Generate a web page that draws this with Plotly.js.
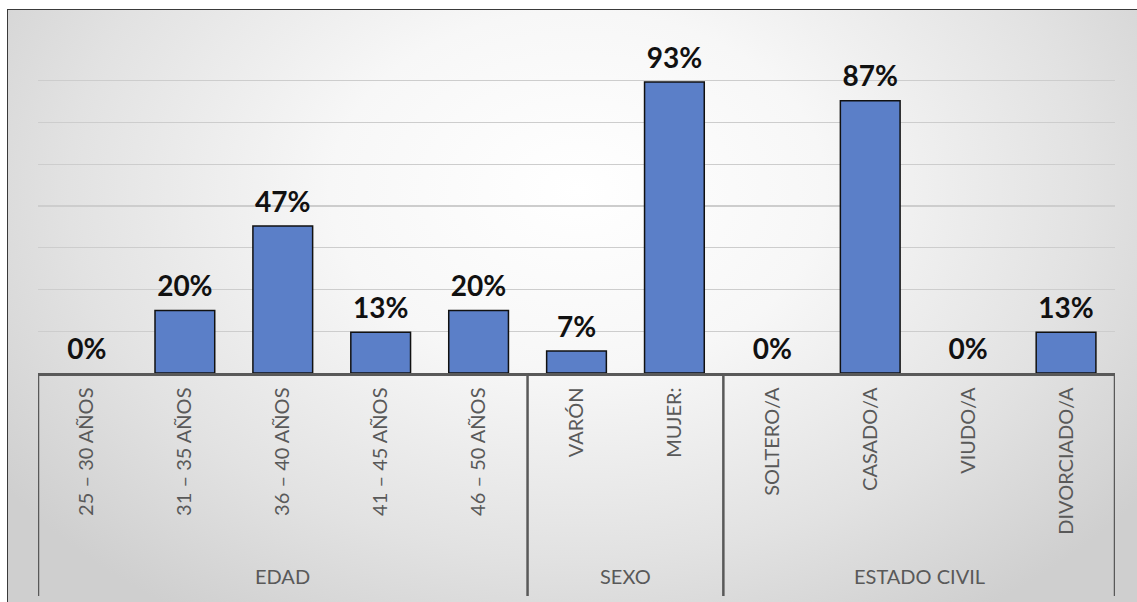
<!DOCTYPE html>
<html>
<head>
<meta charset="utf-8">
<script src="https://cdn.plot.ly/plotly-3.0.1.min.js"></script>
<style>
  html, body { margin: 0; padding: 0; width: 1137px; height: 602px; overflow: hidden; background: #ffffff; }
  #frame { position: absolute; left: 7px; top: 9px; width: 1140px; height: 600px;
           border: 1.5px solid #3a3a3a;
           background: radial-gradient(ellipse 62% 85% at 50% 30%, #ffffff 0%, #f7f7f7 35%, #e2e2e2 72%, #cfcfcf 100%); }
  #chart { position: absolute; left: 0; top: 0; width: 1137px; height: 602px; }
</style>
</head>
<body>
<div id="frame"></div>
<div id="chart"></div>
<script>
const groups = ['EDAD','EDAD','EDAD','EDAD','EDAD','SEXO','SEXO','ESTADO CIVIL','ESTADO CIVIL','ESTADO CIVIL','ESTADO CIVIL'];
const categories = ['25 – 30 AÑOS','31 – 35 AÑOS','36 – 40 AÑOS','41 – 45 AÑOS','46 – 50 AÑOS','VARÓN','MUJER:','SOLTERO/A','CASADO/A','VIUDO/A','DIVORCIADO/A'];
const percentages = [0, 20, 47, 13, 20, 7, 93, 0, 87, 0, 13];
const percentLabels = percentages.map(v => v + '%');

// group boundaries & centers (category index units), derived from the groups array
const boundaries = [-0.5];
const groupNames = [];
const groupCenters = [];
let start = 0;
for (let i = 1; i <= groups.length; i++) {
  if (i === groups.length || groups[i] !== groups[i - 1]) {
    boundaries.push(i - 0.5);
    groupNames.push(groups[i - 1]);
    groupCenters.push((start + i - 1) / 2);
    start = i;
  }
}

const AXIS_COLOR = '#595959';
const plotTop = 39, plotBottom = 373;
const plotH = plotBottom - plotTop;
const groupLabelY = (plotBottom - 576) / plotH;
const dividerBottomY = (plotBottom - 596) / plotH;

const traces = [
  {
    type: 'bar',
    x: categories,
    y: percentages,
    marker: {
      color: '#5b7fc8',
      line: { color: '#111111', width: percentages.map(v => v > 0 ? 1.5 : 0) }
    },
    width: 0.61,
    hoverinfo: 'skip'
  },
  {
    type: 'scatter',
    mode: 'markers+text',
    x: categories,
    y: percentages,
    text: percentLabels,
    textposition: 'top center',
    marker: { size: 10, opacity: 0 },
    textfont: { family: 'Lato, sans-serif', size: 28, color: '#111111', weight: 'bold' },
    cliponaxis: false,
    hoverinfo: 'skip'
  }
];

const shapes = boundaries.map(b => ({
  type: 'line', xref: 'x', yref: 'paper',
  x0: b, x1: b, y0: 0, y1: dividerBottomY,
  line: { color: AXIS_COLOR, width: 2.5 }
}));

const annotations = groupNames.map((g, k) => ({
  xref: 'x', yref: 'paper',
  x: groupCenters[k], y: groupLabelY,
  text: g, showarrow: false,
  xanchor: 'center', yanchor: 'middle',
  font: { family: 'Lato, sans-serif', size: 20, color: AXIS_COLOR }
}));

const layout = {
  width: 1137,
  height: 602,
  margin: { l: 38, r: 22, t: plotTop, b: 602 - plotBottom },
  paper_bgcolor: 'rgba(0,0,0,0)',
  plot_bgcolor: 'rgba(0,0,0,0)',
  showlegend: false,
  font: { family: 'Lato, sans-serif', color: AXIS_COLOR },
  shapes: shapes,
  annotations: annotations,
  xaxis: {
    type: 'category',
    range: [-0.5, categories.length - 0.5],
    tickangle: -90,
    tickfont: { family: 'Lato, sans-serif', size: 20, color: AXIS_COLOR },
    ticklabelstandoff: 4,
    showline: true,
    linecolor: AXIS_COLOR,
    linewidth: 2.5,
    ticks: '',
    showgrid: false,
    zeroline: false
  },
  yaxis: {
    range: [0, 106.7],
    tick0: 0,
    dtick: 100 * 2 / 15,
    showticklabels: false,
    showgrid: true,
    gridcolor: '#cdcdcd',
    gridwidth: 1.2,
    zeroline: false,
    ticks: ''
  }
};

Plotly.newPlot('chart', traces, layout, { displayModeBar: false, staticPlot: true });
</script>
</body>
</html>
